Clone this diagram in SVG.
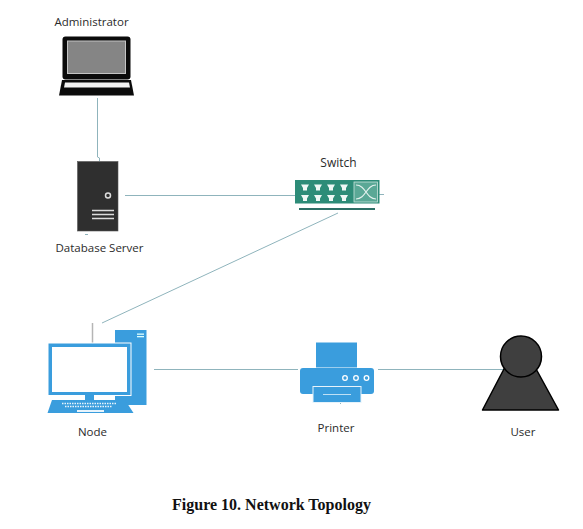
<svg xmlns="http://www.w3.org/2000/svg" width="583" height="529" viewBox="0 0 583 529">
<style>
.lbl{font-family:"Open Sans","Noto Sans",sans-serif;font-size:11.500px;fill:#2b2b2b;text-anchor:middle}
.cap{font-family:"Liberation Serif",serif;font-size:16px;font-weight:bold;fill:#111;text-anchor:middle}
.conn{stroke:#8fb4bc;stroke-width:1;fill:none}
.blue{fill:#3a9ddd}
</style>
<rect width="583" height="529" fill="#fff"/>
<g id="connectors">
<path class="conn" d="M97.500 98V157L99.500 158V161"/>
<path class="conn" d="M125 195.500H296"/>
<path class="conn" d="M338 213L102 323"/>
<path d="M92.500 323V343" stroke="#b5b5b5" stroke-width="1.500" fill="none"/>
<path class="conn" d="M154 369.500H298"/>
<path class="conn" d="M378 369.500H503"/>
<path class="conn" d="M379 194.500H384"/>
<path class="conn" d="M85 234.500H88M340.500 402V404"/>
</g>
<g id="administrator">
<rect x="62.500" y="36.500" width="68" height="43" rx="3" fill="#0b0b0b"/>
<rect x="67.500" y="41" width="58" height="32.500" fill="#858585" stroke="#c4c4c4" stroke-width="1"/>
<path d="M62 80H131L134 95.500H59Z" fill="#0b0b0b"/>
<path d="M65 82.500H129L130 87.500H64Z" fill="#f2f2f2"/>
<text class="lbl" x="91.500" y="26">Administrator</text>
</g>
<g id="database-server">
<rect x="77.500" y="161.500" width="40.500" height="69.500" fill="#2f2f2f" stroke="#555" stroke-width=".6"/>
<circle cx="108" cy="195.500" r="2.500" fill="#2f2f2f" stroke="#ddd" stroke-width="1.500"/>
<path d="M92 210.500H114M92 214.500H114M92 218.500H114" stroke="#ddd" stroke-width="1.500"/>
<text class="lbl" x="99.500" y="252">Database Server</text>
</g>
<g id="switch">
<rect x="295" y="180" width="84.500" height="23.500" fill="#2d8c78"/>
<rect x="354" y="182" width="23.500" height="20" fill="#5aa896" stroke="#c9e3dc" stroke-width=".8"/>
<path d="M356 185C366 185 366 199 376 199M356 199C366 199 366 185 376 185" fill="none" stroke="#e4f1ee" stroke-width="1.200"/>
<path id="ports" d="M301 184.500h8l-2 3.500v2.500h-4v-2.500zM314 184.500h8l-2 3.500v2.500h-4v-2.500zM327 184.500h8l-2 3.500v2.500h-4v-2.500zM340 184.500h8l-2 3.500v2.500h-4v-2.500zM301 195h8l-2 3.500v2.500h-4v-2.500zM314 195h8l-2 3.500v2.500h-4v-2.500zM327 195h8l-2 3.500v2.500h-4v-2.500zM340 195h8l-2 3.500v2.500h-4v-2.500z" fill="#eef7f5"/>
<rect x="299" y="208" width="76" height="2" fill="#2d6f66"/>
<text class="lbl" x="338.500" y="167" style="font-size:12px">Switch</text>
</g>
<g id="node">
<path class="blue" d="M115 330H146.500V405H115Z"/>
<rect x="137" y="333.500" width="7" height="1.300" fill="#dff"/>
<rect x="137" y="336" width="7" height="1.300" fill="#dff"/>
<rect x="48" y="343" width="83" height="52.500" fill="#3a9ddd" stroke="#fff" stroke-width="1"/>
<rect x="52" y="347" width="75" height="45" fill="#fff"/>
<rect x="85" y="395" width="9" height="5" class="blue"/>
<path class="blue" d="M52 400H125L133.500 413H47.500Z"/>
<path d="M62 403.500H116M65 406.500H112" stroke="#e8f4fc" stroke-width="1.500" stroke-dasharray="1.500 1"/>
<rect x="77" y="410" width="27" height="2" fill="#e8f4fc"/>
<text class="lbl" x="92.500" y="436">Node</text>
</g>
<g id="printer">
<rect x="316" y="342.500" width="41" height="25" class="blue"/>
<rect x="300" y="368" width="74" height="26" rx="3" class="blue"/>
<circle cx="345" cy="378" r="2.300" fill="none" stroke="#fff" stroke-width="1.300"/>
<circle cx="356" cy="378" r="2.300" fill="none" stroke="#fff" stroke-width="1.300"/>
<circle cx="366.500" cy="378" r="2.300" fill="none" stroke="#fff" stroke-width="1.300"/>
<rect x="313" y="386.500" width="48" height="16" class="blue" stroke="#e6f3fb" stroke-width="1"/>
<path d="M323 394.500H351" stroke="#bfe0f5" stroke-width="1"/>
<text class="lbl" x="336" y="432">Printer</text>
</g>
<g id="user">
<path d="M505 367L482.500 410H558.500L535 367Z" fill="#3f3f3f" stroke="#000" stroke-width="1.500" stroke-linejoin="round"/>
<circle cx="521" cy="356.500" r="20.500" fill="#3f3f3f" stroke="#000" stroke-width="1.500"/>
<text class="lbl" x="523" y="436">User</text>
</g>
<text class="cap" x="271.500" y="510">Figure 10. Network Topology</text>
</svg>
